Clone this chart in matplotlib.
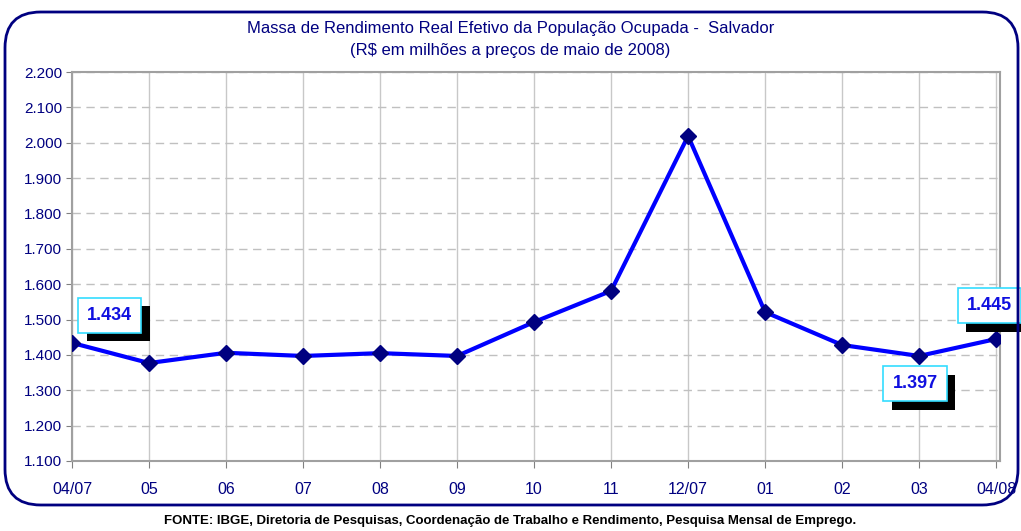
import numpy as np
import matplotlib.pyplot as plt
from matplotlib.patches import FancyBboxPatch
import matplotlib.patheffects as pe

meses = ["04/07", "05", "06", "07", "08", "09", "10", "11", "12/07", "01", "02", "03", "04/08"]
massa = [1434, 1377, 1406, 1397, 1405, 1397, 1493, 1581, 2019, 1521, 1428, 1397, 1445]
yticks = list(range(1100, 2201, 100))
rotulos = {0: (11, 20), 11: (-3, -20), 12: (-5, 24)}  # indice -> deslocamento do rotulo (pt)

navy = "#000080"
plt.rcParams['font.family'] = ['Liberation Sans', 'DejaVu Sans']

fig = plt.figure(figsize=(10.21, 5.31), dpi=100)
ax = fig.add_axes([72 / 1021, 1 - 461 / 531, 928 / 1021, 389 / 531])

x = np.arange(len(meses))
ax.plot(x, massa, color="#0000ff", lw=3, marker="D", ms=8, mfc=navy, mec=navy, zorder=3)

ax.set_xlim(0, 12.05)
ax.set_ylim(1100, 2200)
ax.set_yticks(yticks)
ax.set_yticklabels([f"{v/1000:.3f}" for v in yticks], color=navy, fontsize=11)
ax.set_xticks(x)
ax.set_xticklabels(meses, color=navy, fontsize=11.5)
ax.tick_params(axis="x", length=5, pad=10, color="#808080")
ax.tick_params(axis="y", length=4, pad=3, color="#808080")
ax.yaxis.grid(True, ls=(0, (6, 4)), color="#c0c0c0", lw=1)
ax.xaxis.grid(True, color="#c8c8c8", lw=1)
ax.set_axisbelow(True)
for s in ax.spines.values():
    s.set_color("#a0a0a0")
    s.set_linewidth(1.5)

for i, (dx, dy) in rotulos.items():
    t = ax.annotate(f"{massa[i]/1000:.3f}", xy=(i, massa[i]), xytext=(dx, dy),
                    textcoords="offset points", ha="left" if i == 0 else "center", va="center",
                    fontsize=13, fontweight="bold", color="#1010e0", zorder=5,
                    bbox=dict(boxstyle="square,pad=0.5", fc="white", ec="#33ddff", lw=1.2))
    t.get_bbox_patch().set_path_effects([pe.SimplePatchShadow(offset=(6, -6), shadow_rgbFace="black", alpha=1), pe.Normal()])

fig.text(0.5, 1 - 28 / 531, "Massa de Rendimento Real Efetivo da População Ocupada -  Salvador",
         ha="center", va="center", color=navy, fontsize=12)
fig.text(0.5, 1 - 50 / 531, "(R$ em milhões a preços de maio de 2008)",
         ha="center", va="center", color=navy, fontsize=12)
fig.text(0.5, 1 - 521 / 531,
         "FONTE: IBGE, Diretoria de Pesquisas, Coordenação de Trabalho e Rendimento, Pesquisa Mensal de Emprego.",
         ha="center", va="center", color="black", fontsize=9.5, fontweight="bold")

frame = FancyBboxPatch((5 / 1021, 1 - 505 / 531), 1013 / 1021, 493 / 531,
                       boxstyle="round,pad=0,rounding_size=0.035", transform=fig.transFigure,
                       fc="none", ec=navy, lw=2, mutation_aspect=1021 / 531)
fig.patches.append(frame)

fig.savefig("out.png", dpi=100)
